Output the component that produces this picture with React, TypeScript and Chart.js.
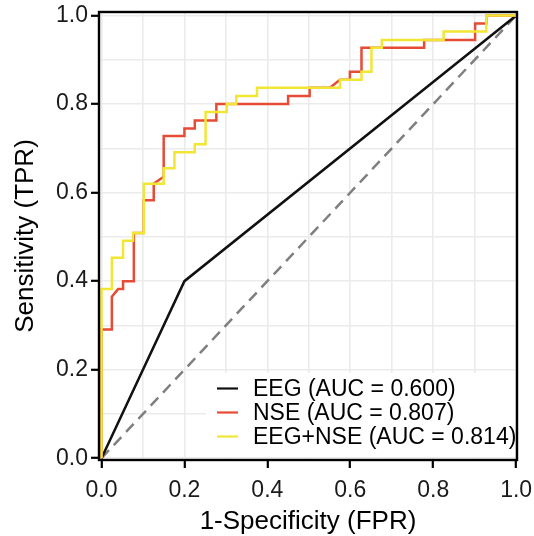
import { useEffect, useRef } from 'react';
import { Chart, registerables } from 'chart.js';

Chart.register(...registerables);

// ---- data ----
const seriesLabels = ['EEG (AUC = 0.600)', 'NSE (AUC = 0.807)', 'EEG+NSE (AUC = 0.814)'];
const seriesColors = ['#111111', '#E64B35', '#F2E635'];

const eegFpr = [0, 0.2, 1];
const eegTpr = [0, 0.4, 1];

const nseFpr = [0, 0, 0.025, 0.025, 0.040, 0.052, 0.052, 0.078, 0.078, 0.102, 0.102, 0.126, 0.126, 0.150, 0.150, 0.200, 0.200, 0.225, 0.225, 0.277, 0.277, 0.450, 0.450, 0.502, 0.502, 0.551, 0.575, 0.599, 0.599, 0.627, 0.627, 0.778, 0.778, 0.901, 0.901, 0.928, 0.928, 1];
const nseTpr = [0, 0.291, 0.291, 0.365, 0.382, 0.382, 0.400, 0.400, 0.509, 0.509, 0.583, 0.583, 0.620, 0.636, 0.728, 0.728, 0.745, 0.745, 0.763, 0.763, 0.800, 0.800, 0.818, 0.818, 0.837, 0.837, 0.855, 0.855, 0.873, 0.873, 0.927, 0.927, 0.945, 0.945, 0.982, 0.982, 1, 1];

const comboFpr = [0, 0, 0.025, 0.025, 0.052, 0.052, 0.076, 0.076, 0.102, 0.102, 0.150, 0.150, 0.176, 0.176, 0.225, 0.225, 0.251, 0.251, 0.302, 0.302, 0.325, 0.325, 0.375, 0.375, 0.575, 0.575, 0.627, 0.627, 0.651, 0.651, 0.676, 0.676, 0.825, 0.825, 0.928, 0.928, 1];
const comboTpr = [0, 0.382, 0.382, 0.453, 0.453, 0.491, 0.491, 0.509, 0.509, 0.620, 0.620, 0.655, 0.655, 0.691, 0.691, 0.709, 0.709, 0.782, 0.782, 0.800, 0.800, 0.818, 0.818, 0.837, 0.837, 0.855, 0.855, 0.873, 0.873, 0.927, 0.927, 0.945, 0.945, 0.964, 0.964, 1, 1];

const refFpr = [0, 1];
const refTpr = [0, 1];

const gridValues = [0, 0.1, 0.2, 0.3, 0.4, 0.5, 0.6, 0.7, 0.8, 0.9, 1];
const tickValues = [0, 0.2, 0.4, 0.6, 0.8, 1];
const tickLabels = ['0.0', '0.2', '0.4', '0.6', '0.8', '1.0'];

const FONT = "'Liberation Sans', Arial, Helvetica, sans-serif";

const toPoints = (xs: number[], ys: number[]) => xs.map((x, i) => ({ x, y: ys[i] }));

const isMajor = (v: number) => tickValues.some((t) => Math.abs(t - v) < 1e-6);
const labelFor = (v: number) => {
  const i = tickValues.findIndex((t) => Math.abs(t - v) < 1e-6);
  return i >= 0 ? tickLabels[i] : '';
};

const legendPlugin = {
  id: 'insideLegend',
  afterDatasetsDraw(chart: any) {
    const { ctx } = chart;
    ctx.save();
    ctx.fillStyle = '#ffffff';
    ctx.fillRect(206, 373, 309, 84);
    const rows = [388.5, 412.5, 436.5];
    ctx.font = `23px ${FONT}`;
    ctx.textBaseline = 'middle';
    ctx.textAlign = 'left';
    for (let i = 0; i < 3; i++) {
      const ds = chart.data.datasets[i];
      ctx.strokeStyle = ds.borderColor;
      ctx.lineWidth = 2.2;
      ctx.beginPath();
      ctx.moveTo(217, rows[i]);
      ctx.lineTo(238, rows[i]);
      ctx.stroke();
      ctx.fillStyle = '#000000';
      ctx.fillText(ds.label, 253, rows[i] + 1);
    }
    ctx.restore();
  },
  afterDraw(chart: any) {
    const { ctx, chartArea } = chart;
    ctx.save();
    ctx.strokeStyle = '#000000';
    ctx.lineWidth = 2.4;
    ctx.strokeRect(chartArea.left, chartArea.top, chartArea.right - chartArea.left, chartArea.bottom - chartArea.top);
    ctx.restore();
  },
};

export default function App() {
  const canvasRef = useRef<HTMLCanvasElement | null>(null);

  useEffect(() => {
    document.body.style.margin = '0';
    const canvas = canvasRef.current;
    if (!canvas) return;

    const gridCommon = {
      color: '#EBEBEB',
      lineWidth: 1.6,
      drawTicks: true,
      tickLength: 8,
      tickWidth: 2.2,
      tickColor: (c: any) => (c.tick && isMajor(c.tick.value) ? '#000000' : 'rgba(0,0,0,0)'),
    };

    const chart = new Chart(canvas, {
      type: 'line',
      data: {
        datasets: [
          {
            label: seriesLabels[0],
            data: toPoints(eegFpr, eegTpr),
            borderColor: seriesColors[0],
            borderWidth: 2.5,
            order: 2,
          },
          {
            label: seriesLabels[1],
            data: toPoints(nseFpr, nseTpr),
            borderColor: seriesColors[1],
            borderWidth: 2.5,
            order: 1,
          },
          {
            label: seriesLabels[2],
            data: toPoints(comboFpr, comboTpr),
            borderColor: seriesColors[2],
            borderWidth: 2.5,
            order: 0,
          },
          {
            label: 'reference',
            data: toPoints(refFpr, refTpr),
            borderColor: '#7F7F7F',
            borderWidth: 2.5,
            borderDash: [11, 7],
            order: 3,
          },
        ],
      },
      options: {
        responsive: false,
        animation: false,
        layout: { padding: { top: 12, right: 17, left: 0, bottom: 0 } },
        elements: { point: { radius: 0 }, line: { tension: 0, fill: false } },
        plugins: { legend: { display: false }, tooltip: { enabled: false } },
        scales: {
          x: {
            type: 'linear',
            min: -0.006,
            max: 1.002,
            afterBuildTicks: (s: any) => {
              s.ticks = gridValues.map((v) => ({ value: v }));
            },
            afterFit: (s: any) => {
              s.height = 76;
              s.paddingLeft = 0;
              s.paddingRight = 0;
            },
            border: { display: false },
            grid: gridCommon,
            ticks: {
              autoSkip: false,
              maxRotation: 0,
              padding: 9,
              color: '#1a1a1a',
              font: { family: FONT, size: 23 },
              callback: (v: any) => labelFor(Number(v)),
            },
            title: {
              display: true,
              text: '1-Specificity (FPR)',
              color: '#000000',
              font: { family: FONT, size: 26, lineHeight: 1 },
              padding: { top: 0, bottom: 1 },
            },
          },
          y: {
            type: 'linear',
            min: -0.004,
            max: 1.008,
            afterBuildTicks: (s: any) => {
              s.ticks = gridValues.map((v) => ({ value: v }));
            },
            afterFit: (s: any) => {
              s.width = 99;
              s.paddingTop = 0;
              s.paddingBottom = 0;
            },
            border: { display: false },
            grid: gridCommon,
            ticks: {
              autoSkip: false,
              padding: 3,
              color: '#1a1a1a',
              font: { family: FONT, size: 23 },
              callback: (v: any) => labelFor(Number(v)),
            },
            title: {
              display: true,
              text: 'Sensitivity (TPR)',
              color: '#000000',
              font: { family: FONT, size: 26, lineHeight: 1 },
              padding: { top: 13, bottom: 0 },
            },
          },
        },
      },
      plugins: [legendPlugin],
    } as any);

    return () => chart.destroy();
  }, []);

  return (
    <div style={{ width: 534, height: 536 }}>
      <canvas ref={canvasRef} width={534} height={536} style={{ display: 'block' }} />
    </div>
  );
}
